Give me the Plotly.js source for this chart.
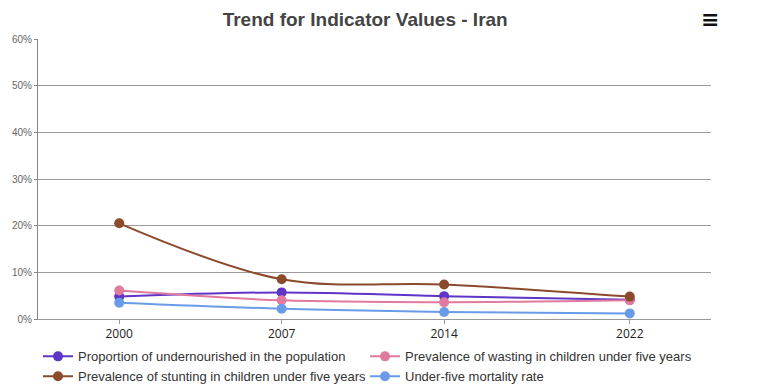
<!DOCTYPE html>
<html>
<head>
<meta charset="utf-8">
<script src="https://cdn.plot.ly/plotly-3.0.1.min.js"></script>
<style>
  html, body { margin: 0; padding: 0; background: #fff; }
  #chart { width: 764px; height: 391px; }
</style>
</head>
<body>
<div id="chart"></div>
<script>
const years = [2000, 2007, 2014, 2022];
const seriesNames = [
  "Proportion of undernourished in the population",
  "Prevalence of wasting in children under five years",
  "Prevalence of stunting in children under five years",
  "Under-five mortality rate"
];
const undernourished = [4.8, 5.7, 4.9, 4.1];
const wasting = [6.1, 4.0, 3.6, 4.0];
const stunting = [20.5, 8.5, 7.4, 4.8];
const mortality = [3.5, 2.2, 1.5, 1.2];
const seriesColors = ["#5E35C6", "#E07A9F", "#8B4A2B", "#6A9BE8"];
const yTickVals = [0, 10, 20, 30, 40, 50, 60];
const yTickText = ["0%", "10%", "20%", "30%", "40%", "50%", "60%"];

const allValues = [undernourished, wasting, stunting, mortality];
const traces = allValues.map((vals, i) => ({
  x: years,
  y: vals,
  name: seriesNames[i],
  type: "scatter",
  mode: "lines+markers",
  line: { color: seriesColors[i], width: 2, shape: "spline", smoothing: 1 },
  marker: { color: seriesColors[i], size: 10 }
}));

const layout = {
  width: 764,
  height: 391,
  margin: { l: 38, r: 53, t: 39, b: 72, autoexpand: false },
  paper_bgcolor: "#ffffff",
  plot_bgcolor: "#ffffff",
  title: {
    text: "<b>Trend for Indicator Values - Iran</b>",
    font: { family: "Liberation Sans, Arial, sans-serif", size: 19, color: "#444444" },
    x: 0.478, xanchor: "center",
    y: 0.95, yanchor: "middle"
  },
  xaxis: {
    range: [1996.5, 2025.5],
    tickvals: years,
    ticktext: years.map(String),
    showgrid: false,
    zeroline: false,
    showline: true,
    linecolor: "#999999",
    linewidth: 1,
    ticks: "outside",
    ticklen: 4,
    tickcolor: "#999999",
    tickfont: { family: "Open Sans, sans-serif", size: 12, color: "#222222" },
    fixedrange: true
  },
  yaxis: {
    range: [0, 60],
    tickvals: yTickVals,
    ticktext: yTickText,
    showgrid: true,
    gridcolor: "#9a9a9a",
    gridwidth: 1,
    zeroline: false,
    showline: true,
    linecolor: "#888888",
    linewidth: 1,
    ticks: "outside",
    ticklen: 3,
    tickcolor: "#888888",
    tickfont: { family: "Liberation Sans Narrow, Arial Narrow, sans-serif", size: 10, color: "#666666" },
    fixedrange: true
  },
  showlegend: true,
  legend: {
    orientation: "h",
    x: 0.0, xanchor: "left",
    y: -0.08, yanchor: "top",
    font: { family: "Liberation Sans, Arial, sans-serif", size: 13, color: "#333333" },
    itemwidth: 30,
    entrywidth: 282,
    entrywidthmode: "pixels",
    tracegroupgap: 0
  },
  annotations: [{
    xref: "paper", yref: "paper",
    x: 0.998, y: 1.07,
    xanchor: "center", yanchor: "middle",
    text: "<b>≡</b>",
    showarrow: false,
    font: { family: "DejaVu Sans, sans-serif", size: 22, color: "#111111" }
  }]
};

Plotly.newPlot("chart", traces, layout, { displayModeBar: false, staticPlot: true });
</script>
</body>
</html>
